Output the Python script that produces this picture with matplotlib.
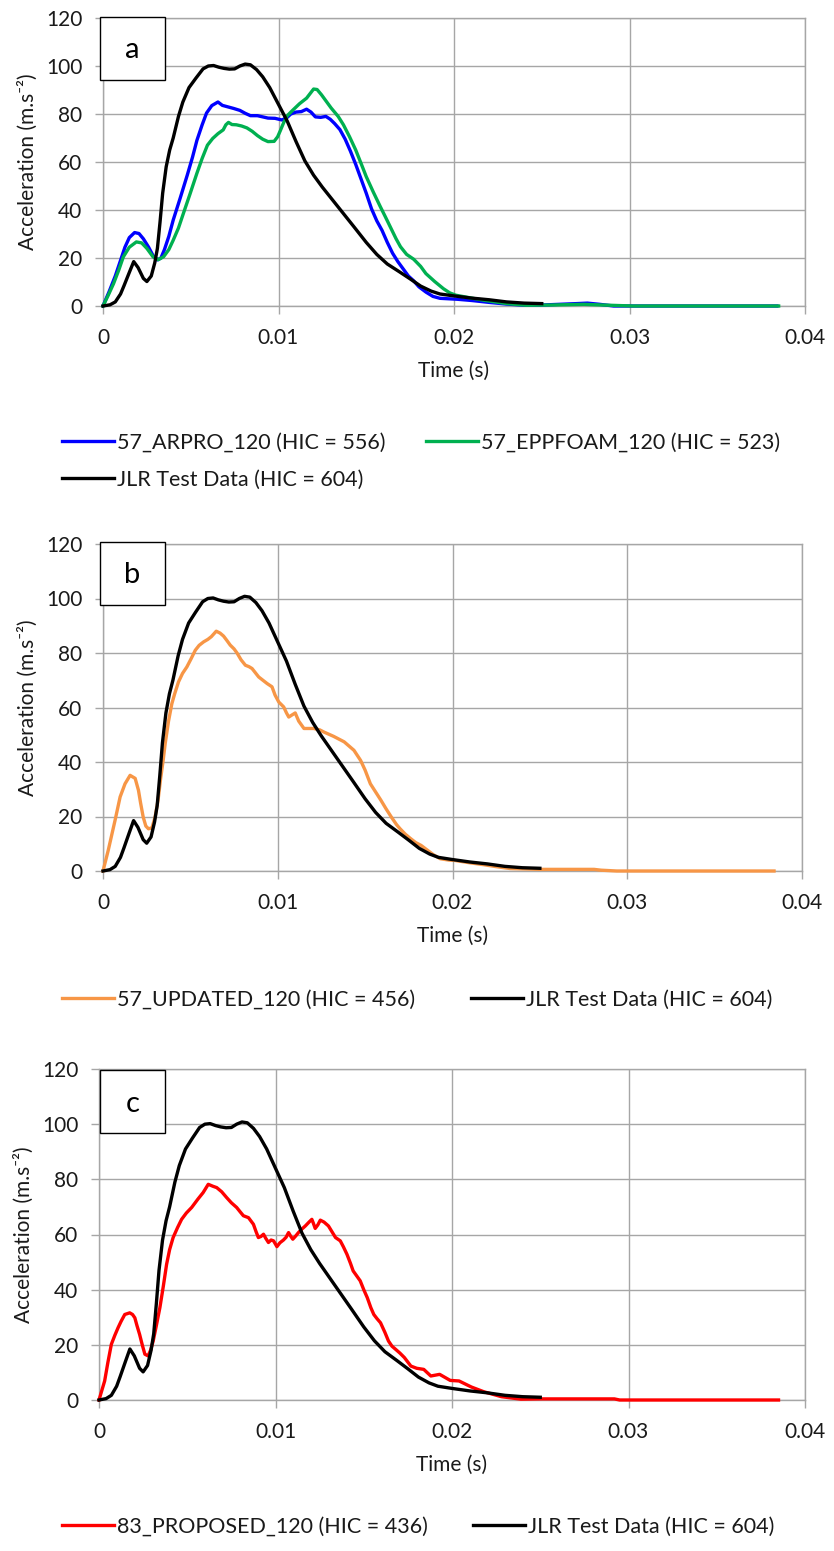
import matplotlib.pyplot as plt
import numpy as np
from matplotlib.patches import Rectangle

W, H = 834, 1551
FONT = ["Lato", "DejaVu Sans"]
GRID = "#a6a6a6"

X_TICKS = [0, 0.01, 0.02, 0.03, 0.04]
X_TICK_LABELS = ["0", "0.01", "0.02", "0.03", "0.04"]
Y_TICKS = [0, 20, 40, 60, 80, 100, 120]

# JLR test data (same curve in all three panels), time in ms
jlr_t = [0, 0.4, 0.7, 1.0, 1.2, 1.5, 1.75, 2.0, 2.3, 2.5, 2.75, 2.95, 3.1, 3.25, 3.4, 3.6,
         3.8, 4.0, 4.3, 4.55, 4.9, 5.3, 5.7, 6.0, 6.3, 6.6, 6.9, 7.2, 7.5, 7.8, 8.1, 8.4,
         8.75, 9.1, 9.5, 10.0, 10.5, 11.0, 11.5, 12.0, 12.5, 13.1, 13.7, 14.3, 15.0, 15.6,
         16.2, 16.9, 17.5, 18.1, 18.7, 19.2, 20.0, 21.0, 22.0, 23.0, 24.0, 25.0]
jlr_a = [0, 0.5, 1.7, 5, 8.5, 14, 18.5, 16, 11.5, 10.2, 12.5, 18, 24, 35, 47, 58,
         65, 70, 79, 85, 91, 95, 98.8, 100, 100.2, 99.5, 99, 98.7, 98.8, 100, 100.8, 100.5,
         98.5, 95.5, 91, 84, 77, 68.5, 60.5, 54.5, 49.5, 44, 38.5, 33, 26.5, 21.5,
         17.5, 14.2, 11.3, 8.3, 6.2, 5.0, 4.2, 3.3, 2.6, 1.7, 1.2, 1.0]

arpro_t = [0, 0.35, 0.7, 1.0, 1.25, 1.5, 1.8, 2.05, 2.3, 2.6, 2.85, 3.1, 3.3, 3.5, 3.75, 4.0,
           4.4, 4.8, 5.1, 5.35, 5.65, 5.9, 6.2, 6.55, 6.8, 7.1, 7.45, 7.8, 8.1, 8.4, 8.8, 9.1,
           9.4, 9.8, 10.2, 10.5, 10.7, 11.0, 11.3, 11.6, 11.85, 12.1, 12.4, 12.7, 12.95, 13.2,
           13.5, 13.8, 14.1, 14.4, 14.7, 15.0, 15.3, 15.6, 15.9, 16.2, 16.5, 16.8, 17.1, 17.4,
           17.7, 18.0, 18.4, 18.8, 19.2, 20.2, 21.0, 22.0, 23.0, 24.1, 25.0, 26.0, 27.0, 27.6,
           28.3, 29.1, 38.4]
arpro_a = [0, 6, 12.5, 19, 24.5, 28.5, 30.6, 30.2, 28, 24.5, 21, 19.2, 20, 23.5, 29, 35.8,
           45, 54.5, 62, 69, 75.5, 80.4, 83.5, 85, 83.6, 83, 82.3, 81.5, 80.3, 79.3, 79.3, 78.8,
           78.3, 78.2, 77.5, 78.6, 80, 80.8, 81, 82, 80.8, 78.8, 78.6, 79, 77.8, 76,
           73.5, 69.5, 64.5, 59, 53, 47, 40.5, 35.5, 31.5, 26.5, 22, 18.5, 15.5, 12.5,
           10.5, 8, 5.8, 4, 3.2, 2.8, 2.3, 1.5, 0.8, 0.3, 0.4, 0.7, 1.0, 1.2,
           0.7, 0, 0]

eppfoam_t = [0, 0.3, 0.6, 0.9, 1.16, 1.5, 1.9, 2.2, 2.5, 2.85, 3.15, 3.45, 3.75, 4.0, 4.3, 4.6,
             4.95, 5.35, 5.65, 5.95, 6.25, 6.55, 6.85, 7.0, 7.15, 7.35, 7.6, 7.9, 8.2, 8.5, 8.8,
             9.1, 9.4, 9.75, 9.95, 10.1, 10.3, 10.5, 10.8, 11.2, 11.6, 11.8, 12.0, 12.2, 12.45,
             12.7, 13.0, 13.4, 13.7, 14.05, 14.4, 14.7, 15.0, 15.4, 15.8, 16.1, 16.4, 16.7,
             16.95, 17.3, 17.7, 18.1, 18.4, 18.9, 19.4, 19.75, 20.1, 21.0, 21.7, 23.0, 24.1,
             25.5, 27.4, 28.5, 30.2, 38.5]
eppfoam_a = [0, 4.5, 9.3, 15, 20.5, 24.5, 26.7, 26.3, 24, 20.5, 19.3, 20.5, 23.5, 27.4, 32.5, 39,
             46.5, 55.3, 61.5, 67, 69.8, 71.8, 73.4, 75.5, 76.5, 75.6, 75.5, 75, 74.2, 72.8, 71,
             69.5, 68.5, 68.6, 70.5, 73, 76.5, 79.3, 81.5, 84.3, 86.6, 88.5, 90.4, 90.2, 88,
             85.5, 82.5, 79, 75.5, 70.5, 65, 59.5, 53.9, 47.5, 41.4, 37, 32.5, 28,
             24.7, 21.5, 19.5, 16.5, 13.5, 10.2, 7.2, 5.5, 4.5, 3.3, 2.4, 1.0, 0.3,
             0.4, 0.7, 0.4, 0, 0]

updated_t = [0, 0.3, 0.69, 0.98, 1.26, 1.55, 1.84, 2.03, 2.15, 2.3, 2.45, 2.6, 2.8, 2.98, 3.15,
             3.3, 3.45, 3.56, 3.75, 3.94, 4.1, 4.32, 4.55, 4.8, 5.05, 5.28, 5.5, 5.76, 6.0, 6.2,
             6.48, 6.7, 6.9, 7.1, 7.28, 7.5, 7.67, 7.9, 8.15, 8.35, 8.53, 8.75, 8.91, 9.15, 9.39,
             9.67, 9.85, 10.06, 10.34, 10.5, 10.63, 10.8, 11.0, 11.2, 11.5, 12.06, 12.4, 12.64,
             13.2, 13.8, 14.36, 14.74, 15.0, 15.3, 15.6, 15.9, 16.2, 16.5, 16.8, 17.0, 17.3,
             17.6, 17.9, 18.2, 18.57, 18.9, 19.3, 19.8, 20.1, 21.0, 21.8, 22.5, 23.3, 25.0,
             28.1, 28.5, 29.4, 38.4]
updated_a = [0, 7.6, 18.6, 27.2, 32, 35.1, 34, 29.6, 25, 19.8, 16.5, 15.5, 15.8, 19.8, 26,
             34, 41, 46.8, 55, 61.4, 65, 69.4, 72.5, 74.9, 78, 81, 82.8, 84.1, 85, 86,
             88, 87.3, 86.2, 84.5, 82.9, 81.5, 80, 77.5, 75.5, 75, 74.3, 72.5, 71.2, 70, 68.8,
             67.6, 64.5, 62, 60.2, 58, 56.5, 57.2, 58, 55, 52.3, 52.3, 51.8, 51,
             49.4, 47.4, 44.3, 40.6, 37, 32, 29, 26, 22.8, 19.8, 17, 15.5, 13.5,
             11.9, 10.4, 9.4, 7.6, 6, 4.5, 4, 3.9, 3.0, 2.3, 1.6, 0.9, 0.6,
             0.6, 0.3, 0, 0]

proposed_t = [0, 0.32, 0.5, 0.7, 0.9, 1.08, 1.25, 1.46, 1.74, 1.9, 2.03, 2.15, 2.3, 2.45, 2.6,
              2.78, 2.92, 3.07, 3.25, 3.45, 3.65, 3.83, 4.0, 4.2, 4.45, 4.68, 4.95, 5.25, 5.6,
              5.9, 6.19, 6.45, 6.67, 6.95, 7.23, 7.5, 7.8, 8.0, 8.18, 8.47, 8.75, 8.9, 9.03,
              9.18, 9.32, 9.45, 9.6, 9.75, 9.89, 10.08, 10.25, 10.45, 10.6, 10.74, 10.85, 10.98,
              11.15, 11.3, 11.5, 11.69, 11.9, 12.06, 12.15, 12.25, 12.4, 12.54, 12.75, 13.0,
              13.2, 13.4, 13.67, 13.85, 14.05, 14.25, 14.4, 14.6, 14.8, 15.0, 15.2, 15.4, 15.57,
              15.75, 15.95, 16.2, 16.4, 16.6, 16.8, 17.05, 17.3, 17.67, 18.0, 18.4, 18.8, 19.3,
              19.9, 20.4, 21.1, 21.8, 22.8, 23.9, 25.06, 29.2, 29.5, 38.5]
proposed_a = [0, 6.9, 13.5, 20.2, 23.5, 26.2, 28.5, 31, 31.6, 31, 29.8, 27, 23.8, 20, 16.6,
              16, 18, 21.4, 27, 33.5, 41.5, 49.2, 54.5, 58.9, 62.5, 65.5, 67.8, 69.8, 72.8,
              75.2, 78.2, 77.5, 77, 75.5, 73.4, 71.5, 69.8, 68.2, 66.8, 66.1, 63.7, 61, 58.9,
              59.3, 60.1, 58.6, 57.1, 58, 57.7, 55.6, 57, 58, 59, 60.7, 59.5, 58.3,
              59.5, 60.7, 62, 63.1, 64.5, 65.5, 64, 62.2, 63.5, 65.2, 64.5, 63.1,
              61, 58.9, 57.7, 55.5, 52.8, 49.5, 46.8, 45, 43.2, 40, 37.1, 33.5, 31,
              29.5, 28, 24.5, 21.4, 19.5, 18.4, 17, 15.4, 12.3, 11.5, 11.1, 8.7, 9.3,
              7.1, 6.9, 4.7, 3.0, 1.2, 0.3, 0.4, 0.4, 0, 0]

JLR_LABEL = "JLR Test Data (HIC = 604)"

plt.rcParams["font.family"] = FONT

fig = plt.figure(figsize=(W / 100, H / 100), dpi=100)


def add_axes_px(left, top, right, bottom):
    return fig.add_axes([left / W, 1 - bottom / H, (right - left) / W, (bottom - top) / H])


def style_axis(ax):
    ax.set_xlim(0, 0.04)
    ax.set_ylim(0, 120)
    ax.set_xticks(X_TICKS)
    ax.set_xticklabels(X_TICK_LABELS)
    ax.set_yticks(Y_TICKS)
    ax.grid(True, color=GRID, linewidth=1.0)
    ax.set_axisbelow(True)
    for spine in ax.spines.values():
        spine.set_color(GRID)
        spine.set_linewidth(1.0)
    ax.tick_params(axis="both", direction="out", length=6, width=1.0, color=GRID,
                   labelsize=15, labelcolor="#1a1a1a")
    ax.tick_params(axis="y", pad=9)
    ax.tick_params(axis="x", pad=10)
    ax.set_xlabel("Time (s)", fontsize=15, labelpad=9, color="#1a1a1a")
    ax.set_ylabel("Acceleration (m.s⁻²)", fontsize=15, labelpad=6, color="#1a1a1a")


def letter_box(left, top, letter):
    w, h = 65, 63
    fig.add_artist(Rectangle((left / W, 1 - (top + h) / H), w / W, h / H,
                             transform=fig.transFigure, facecolor="white",
                             edgecolor="black", linewidth=1.0, zorder=10))
    fig.text((left + w / 2) / W, 1 - (top + h / 2 + 2) / H, letter, fontsize=21,
             ha="center", va="center", zorder=11)


def plot_series(ax, t_ms, acc, color, label):
    line, = ax.plot(np.array(t_ms) / 1000.0, acc, color=color, linewidth=2.4,
                    label=label, clip_on=False, zorder=3)
    return line


def add_legend(handles, x_px, y_px, colspacing):
    fig.legend(handles=handles, loc="center left", bbox_to_anchor=(x_px / W, 1 - y_px / H),
               ncol=2, frameon=False, fontsize=15.5, handlelength=2.4, handletextpad=0.15,
               columnspacing=colspacing, borderpad=0, borderaxespad=0, labelspacing=0.8,
               labelcolor="#1a1a1a")


# panel a
ax_a = add_axes_px(103, 18, 805, 306)
style_axis(ax_a)
h_arpro = plot_series(ax_a, arpro_t, arpro_a, "#0000ff", "57_ARPRO_120 (HIC = 556)")
h_epp = plot_series(ax_a, eppfoam_t, eppfoam_a, "#00b050", "57_EPPFOAM_120 (HIC = 523)")
h_jlr = plot_series(ax_a, jlr_t, jlr_a, "black", JLR_LABEL)
letter_box(100, 17, "a")
add_legend([h_arpro, h_jlr, h_epp], 62, 461, 1.9)

# panel b
ax_b = add_axes_px(103, 544, 802, 871)
style_axis(ax_b)
h_upd = plot_series(ax_b, updated_t, updated_a, "#f79646", "57_UPDATED_120 (HIC = 456)")
h_jlr_b = plot_series(ax_b, jlr_t, jlr_a, "black", JLR_LABEL)
letter_box(100, 542, "b")
add_legend([h_upd, h_jlr_b], 62, 1000, 2.6)

# panel c
ax_c = add_axes_px(99, 1069, 805, 1400)
style_axis(ax_c)
h_prop = plot_series(ax_c, proposed_t, proposed_a, "#ff0000", "83_PROPOSED_120 (HIC = 436)")
h_jlr_c = plot_series(ax_c, jlr_t, jlr_a, "black", JLR_LABEL)
letter_box(100, 1070, "c")
add_legend([h_prop, h_jlr_c], 62, 1527, 2.1)

fig.savefig("out.png", dpi=100)
